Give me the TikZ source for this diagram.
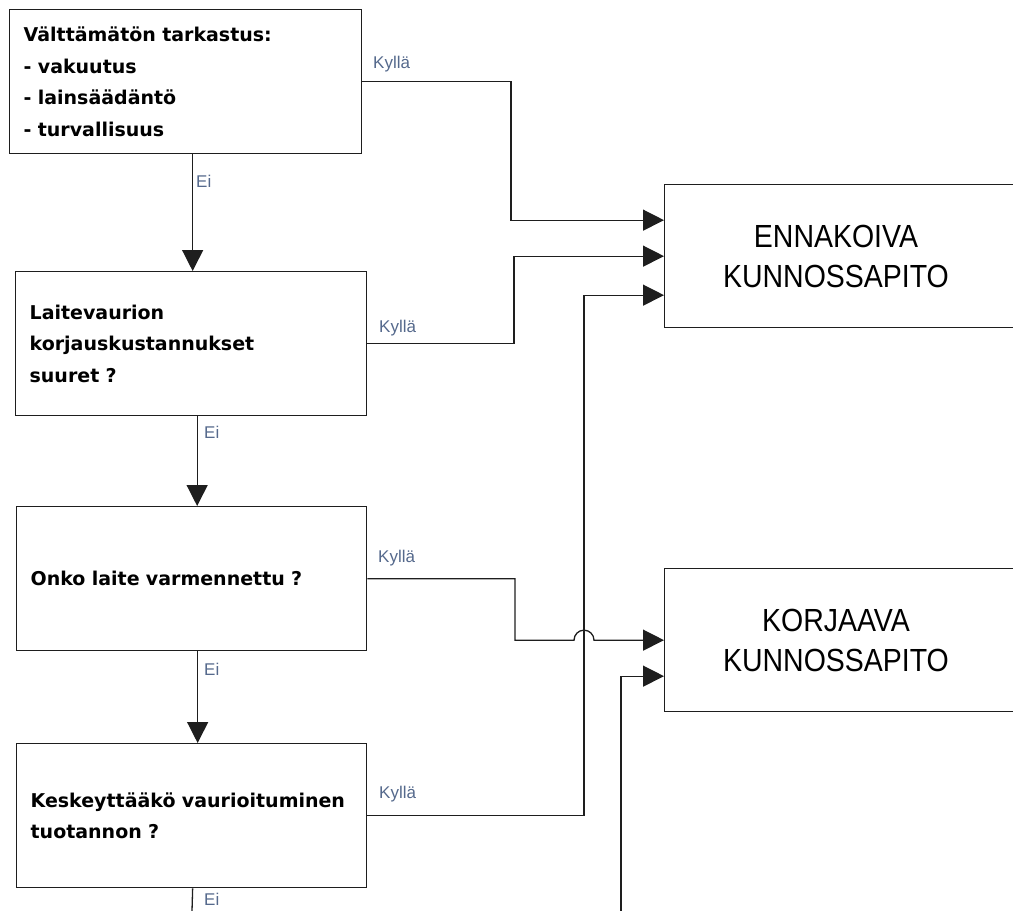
\documentclass[tikz,border=0pt]{standalone}
\usepackage{fontspec}
\setmainfont{Liberation Sans}
\newfontfamily\qfont{DejaVu Sans}
\usetikzlibrary{arrows.meta,calc}
\definecolor{labcol}{RGB}{85,105,140}
\definecolor{linecol}{RGB}{30,30,30}

\begin{document}
\begin{tikzpicture}[x=1pt,y=-1pt,
  qbox/.style={draw=linecol, line width=1.3pt, anchor=north west,
    minimum height=144pt, text width=#1-28pt, inner xsep=14pt, inner ysep=0pt,
    align=left, font=\qfont\bfseries\fontsize{19}{31.5}\selectfont},
  goalbox/.style={draw=linecol, line width=1.3pt, anchor=north west,
    minimum width=400pt, minimum height=143pt, inner sep=0pt},
  goaltext/.style={align=center, inner sep=0pt,
    font=\fontsize{32}{40}\selectfont},
  lab/.style={anchor=base west, inner sep=0pt, text=labcol,
    font=\fontsize{17}{17}\selectfont},
  conn/.style={draw=linecol, line width=1.3pt},
  arr/.style={conn, -{Triangle[length=21pt,width=21pt]}},
]
\useasboundingbox (0,0) rectangle (1013,911);
\clip (0,0) rectangle (1013,911);

% decision boxes
\node[qbox=352pt] (q1) at (9,9) {Välttämätön tarkastus:\\- vakuutus\\- lainsäädäntö\\- turvallisuus};
\node[qbox=351pt] (q2) at (15,271) {Laitevaurion\\korjauskustannukset\\suuret ?};
\node[qbox=350pt] (q3) at (16,506) {Onko laite varmennettu ?};
\node[qbox=350pt] (q4) at (16,743) {Keskeyttääkö vaurioituminen\\tuotannon ?};

% outcome boxes (running past the right edge)
\node[goalbox] (ek) at (664,184) {};
\node[goaltext] (ekt) at ($(ek.west)+(172,0)$) {\scalebox{0.89}[1]{ENNAKOIVA}\\\scalebox{0.89}[1]{KUNNOSSAPITO}};
\node[goalbox] (kk) at (664,568) {};
\node[goaltext] (kkt) at ($(kk.west)+(172,0)$) {\scalebox{0.89}[1]{KORJAAVA}\\\scalebox{0.89}[1]{KUNNOSSAPITO}};

% entry points on the outcome boxes
\coordinate (ek1) at ($(ek.west)+(0,-36)$);
\coordinate (ek2) at (ek.west);
\coordinate (ek3) at ($(ek.west)+(0,39)$);
\coordinate (kk1) at (kk.west);
\coordinate (kk2) at ($(kk.west)+(0,36)$);
\coordinate (kkin) at (621,911);
\coordinate (q4out) at (192,911);

% "Ei" chain
\draw[arr] ([xshift=7pt]q1.south) -- ([xshift=7pt]q1.south |- q2.north);
\draw[arr] ([xshift=6pt]q2.south) -- ([xshift=6pt]q2.south |- q3.north);
\draw[arr] ([xshift=6pt]q3.south) -- ([xshift=6pt]q3.south |- q4.north);
\draw[conn] ([xshift=1pt]q4.south) -- (q4out);

% "Kyllä" branches
\draw[arr] (q1.east) -| (511,0 |- ek1) -- (ek1);
\draw[arr] (q2.east) -| (514,0 |- ek2) -- (ek2);
\draw[arr] (q4.east) -| (584,0 |- ek3) -- (ek3);
\draw[arr] (q3.east) -| (515,0 |- kk1) -- (574,0 |- kk1) arc[start angle=180, end angle=0, radius=10pt] -- (kk1);
\draw[arr] (kkin) |- (kk2);

% branch labels
\node[lab] (k1) at (373,68) {Kyllä};
\node[lab] (k2) at (379,332) {Kyllä};
\node[lab] (k3) at (378,562) {Kyllä};
\node[lab] (k4) at (379,798) {Kyllä};
\node[lab] (e1) at (196,187) {Ei};
\node[lab] (e2) at (204,438) {Ei};
\node[lab] (e3) at (204,675) {Ei};
\node[lab] (e4) at (204,905) {Ei};
\end{tikzpicture}
\end{document}
